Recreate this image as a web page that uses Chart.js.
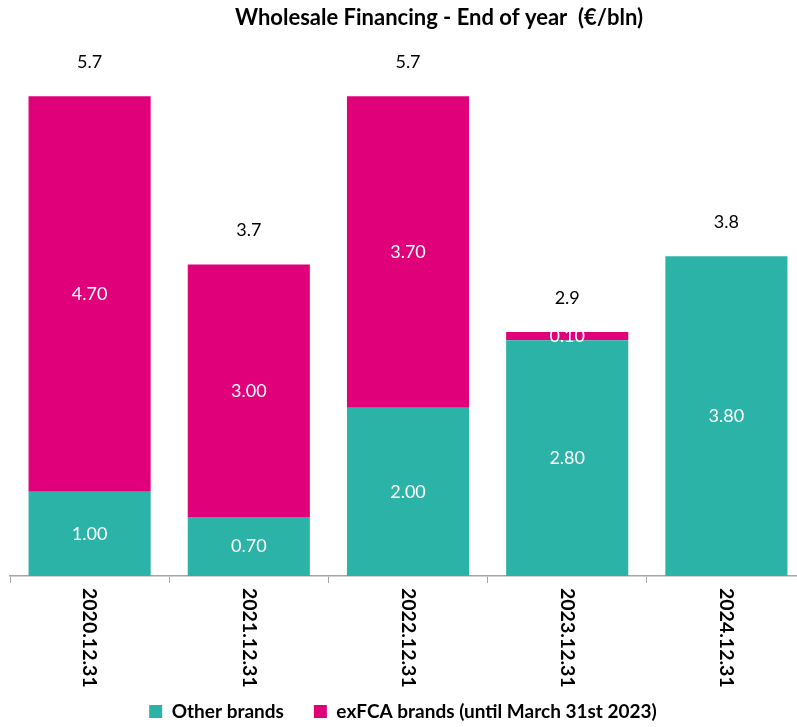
<!DOCTYPE html>
<html>
<head>
<meta charset="utf-8">
<script src="https://cdn.jsdelivr.net/npm/chart.js@4.4.1/dist/chart.umd.min.js"></script>
<style>
html, body { margin: 0; padding: 0; background: #fff; overflow: hidden; }
#wrap { position: relative; width: 806px; height: 727px; }
</style>
</head>
<body>
<div id="wrap"><canvas id="chart" width="806" height="727"></canvas></div>
<script>
const chartTitle = 'Wholesale Financing - End of year  (€/bln)';
const categories = ['2020.12.31', '2021.12.31', '2022.12.31', '2023.12.31', '2024.12.31'];
const otherBrands = [1.00, 0.70, 2.00, 2.80, 3.80];
const exFcaBrands = [4.70, 3.00, 3.70, 0.10, null];
const totals = [5.7, 3.7, 5.7, 2.9, 3.8];

const TEAL = '#2cb3a8';
const MAGENTA = '#e0007a';
const FONT = 'Lato, "Open Sans", sans-serif';

// segment values, totals above bars, rotated category labels, title
const labelsPlugin = {
    id: 'valueLabels',
    afterDatasetsDraw(chart) {
        const ctx = chart.ctx;
        const xScale = chart.scales.x;
        const yScale = chart.scales.y;
        ctx.save();
        ctx.textAlign = 'center';
        ctx.textBaseline = 'middle';

        ctx.font = '18px ' + FONT;
        ctx.fillStyle = '#ffffff';
        chart.data.datasets.forEach((ds, di) => {
            chart.getDatasetMeta(di).data.forEach((bar, i) => {
                const v = ds.data[i];
                if (v == null) return;
                const { x, y, base } = bar.getProps(['x', 'y', 'base'], true);
                ctx.fillText(v.toFixed(2), x, (y + base) / 2);
            });
        });

        ctx.fillStyle = '#000000';
        totals.forEach((t, i) => {
            ctx.fillText(t.toFixed(1), xScale.getPixelForValue(i), yScale.getPixelForValue(t) - 34);
        });

        // category labels read top to bottom
        ctx.font = 'bold 19.5px ' + FONT;
        ctx.textAlign = 'left';
        categories.forEach((c, i) => {
            ctx.save();
            ctx.translate(xScale.getPixelForValue(i), xScale.top + 12);
            ctx.rotate(Math.PI / 2);
            ctx.fillText(c, 0, 0);
            ctx.restore();
        });

        ctx.font = 'bold 22px ' + FONT;
        ctx.textAlign = 'center';
        ctx.fillText(chartTitle, 439, 18);
        ctx.restore();
    }
};

new Chart(document.getElementById('chart'), {
    type: 'bar',
    data: {
        labels: categories,
        datasets: [
            { label: 'Other brands', data: otherBrands, backgroundColor: TEAL },
            { label: 'exFCA brands (until March 31st 2023)', data: exFcaBrands, backgroundColor: MAGENTA }
        ]
    },
    options: {
        responsive: false,
        animation: false,
        layout: { padding: { top: 71, left: 0, right: 0, bottom: -4 } },
        datasets: { bar: { barPercentage: 0.767, categoryPercentage: 1 } },
        plugins: {
            legend: {
                position: 'bottom',
                labels: {
                    boxWidth: 13,
                    boxHeight: 13,
                    padding: 30,
                    color: '#000',
                    font: { family: FONT, size: 19, weight: 'bold' }
                }
            },
            tooltip: { enabled: false }
        },
        scales: {
            x: {
                stacked: true,
                grid: { display: true, drawOnChartArea: false, drawTicks: true, tickLength: 7, color: '#a6a6a6', offset: true },
                border: { display: true, color: '#a6a6a6', width: 1.5 },
                ticks: { display: false },
                afterFit(s) { s.height = 155 - s.chart.legend.height; }
            },
            y: {
                stacked: true,
                min: 0,
                max: 6,
                ticks: { display: false },
                grid: { display: false },
                border: { display: false },
                afterFit(s) { s.width = 10; }
            }
        }
    },
    plugins: [labelsPlugin]
});
</script>
</body>
</html>
